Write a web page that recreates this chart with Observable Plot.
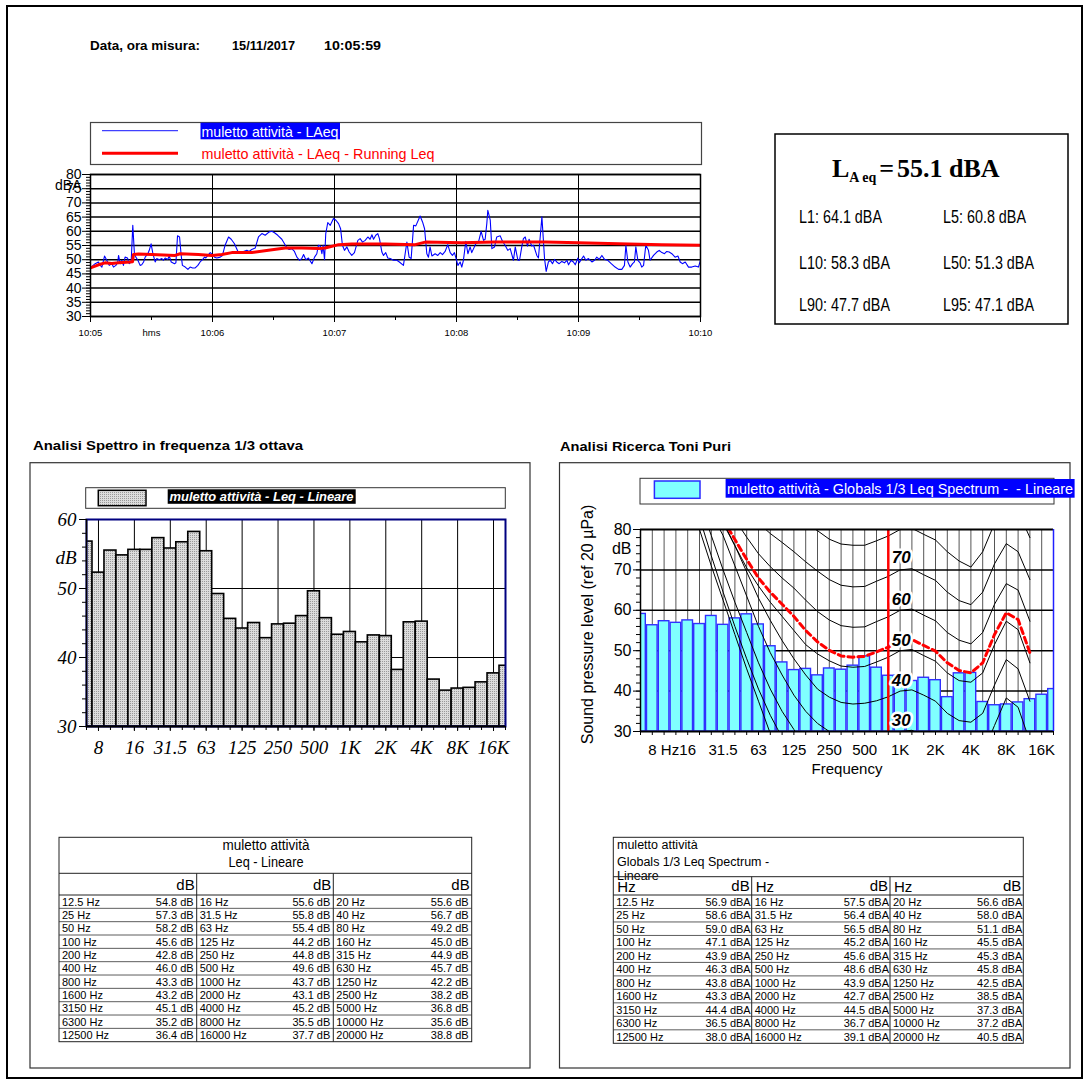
<!DOCTYPE html>
<html><head><meta charset="utf-8">
<script src="https://cdn.jsdelivr.net/npm/d3@7"></script>
<script src="https://cdn.jsdelivr.net/npm/@observablehq/plot@0.6"></script>
<style>
body{margin:0;background:#fff;}
#page{position:relative;width:1089px;height:1086px;overflow:hidden;background:#fff;}
</style></head><body><div id="page"></div>
<script>
// ---------------- DATA ----------------
const timeTicks = [0, 60, 120, 180, 240, 300];
const timeLabels = ["10:05", "10:06", "10:07", "10:08", "10:09", "10:10"];
const tSec = [0.3,2.3,3.9,4.8,5.6,6.9,8.0,9.2,10.5,11.3,12.5,13.4,13.8,14.6,15.4,16.2,17.0,18.2,19.0,20.0,20.8,21.6,22.3,23.3,24.4,25.2,26.1,26.9,28.2,28.9,29.8,30.7,31.8,32.6,33.8,35.1,35.9,36.7,38.0,38.7,39.7,41.3,42.0,42.8,43.8,44.6,45.2,46.6,47.9,49.0,50.2,51.5,52.8,53.9,55.1,56.1,56.7,57.7,58.9,60.0,61.0,62.1,63.8,64.9,66.2,67.9,69.2,70.8,72.5,73.6,75.2,76.9,78.0,79.3,81.0,82.6,84.3,85.9,87.9,89.2,90.5,92.1,94.1,95.4,96.6,97.7,99.0,100.3,101.5,102.8,103.9,104.8,105.9,107.2,108.9,110.2,111.3,112.1,113.0,113.8,114.4,115.1,115.7,116.7,117.9,119.5,120.7,122.0,123.0,123.9,124.9,126.1,127.2,128.5,129.8,131.5,132.6,133.8,135.1,136.4,137.5,138.4,139.2,140.3,141.3,142.1,143.3,144.1,145.2,146.2,147.4,149.0,150.7,151.9,153.9,155.6,156.7,157.7,158.9,160.0,162.1,163.3,164.3,165.4,166.2,167.0,167.9,169.5,170.8,172.0,173.1,174.4,175.7,176.9,178.0,179.0,180.7,181.8,182.6,183.4,184.6,185.6,186.7,187.5,188.4,189.5,190.8,192.1,193.3,194.1,194.9,195.4,196.6,197.4,198.7,199.8,201.5,202.6,203.9,205.2,206.4,208.0,208.9,210.2,211.0,212.1,212.9,213.8,214.9,215.7,217.0,217.9,219.5,220.3,222.0,223.3,224.1,225.2,226.1,227.2,228.2,229.3,230.5,231.8,233.1,234.3,235.1,236.4,237.5,238.4,239.7,240.3,242.5,243.6,244.9,246.6,247.9,249.0,250.2,251.5,252.8,254.4,256.1,258.0,259.7,261.3,262.6,263.3,264.3,265.4,266.6,267.5,268.2,269.2,270.3,271.1,272.0,273.1,274.4,275.2,276.9,278.5,279.7,281.0,282.3,283.4,284.6,285.9,287.5,288.9,290.0,291.1,292.5,294.1,295.7,297.4,299.0,300.0];
const laeq = [47.4,48.6,49.2,48.0,47.4,51.3,49.8,48.0,48.6,47.4,48.0,49.2,51.5,48.6,49.8,48.0,50.9,50.6,48.6,49.2,62.1,52.1,50.9,49.8,48.0,48.2,49.2,50.9,52.1,53.3,55.6,52.1,49.2,50.4,50.0,50.4,49.8,50.6,50.1,51.3,49.2,48.6,48.9,58.4,58.0,51.5,48.0,47.4,46.6,47.4,47.1,47.1,48.0,49.2,50.0,50.9,50.6,51.5,52.5,51.8,50.9,50.6,50.9,51.5,55.1,58.0,57.2,55.6,52.9,52.5,52.9,53.3,52.9,53.6,54.1,58.0,59.2,58.6,59.8,60.0,59.5,58.6,57.2,55.6,54.1,53.6,53.9,52.9,50.9,49.8,50.4,51.8,50.0,50.6,48.6,50.9,52.1,55.1,54.8,52.1,55.1,50.0,59.2,63.1,62.1,64.5,63.9,62.7,60.9,55.1,53.3,54.5,52.7,51.5,52.5,56.8,57.4,56.2,56.8,58.0,57.2,58.8,57.2,58.6,59.2,57.4,52.7,51.5,52.5,50.6,50.4,49.8,49.8,49.2,48.0,56.2,50.9,50.4,62.1,61.9,65.4,63.3,60.9,52.1,50.9,54.5,51.3,52.1,51.5,52.5,51.8,52.9,55.3,52.5,51.5,52.5,48.0,49.2,47.4,49.8,56.5,52.1,54.5,52.5,53.9,55.6,56.2,60.0,56.8,57.2,62.7,67.4,63.9,53.9,54.5,58.0,58.4,56.5,55.1,53.3,53.9,49.8,54.5,49.8,49.8,54.5,57.4,58.0,54.8,57.2,54.8,55.1,51.5,50.6,65.1,50.4,45.9,49.2,49.8,48.6,50.1,49.2,48.6,49.4,48.9,49.8,48.2,49.8,49.2,48.2,50.6,48.9,51.3,49.8,50.4,49.2,49.8,50.9,50.1,51.5,50.1,49.8,48.6,47.4,46.6,46.6,48.0,55.1,49.2,47.4,48.6,49.2,54.5,49.8,48.9,47.4,48.0,55.1,53.3,49.8,51.5,52.7,53.3,52.5,52.1,52.9,52.7,52.1,50.9,51.3,49.2,48.6,49.2,47.4,47.4,47.8,47.4,49.8];
const tRun = [0.3,3.9,7.2,10.5,13.8,19.5,20.7,21.1,23.6,30.2,41.6,44.1,53.1,59.7,64.6,69.5,79.3,87.5,95.7,103.9,112.1,115.4,122.0,128.5,144.9,159.7,164.6,182.6,199.0,223.6,240.0,264.6,281.0,300.0];
const runLeq = [47.2,48.2,48.9,48.7,48.9,49.2,49.3,51.8,52.0,51.8,51.5,52.1,51.8,51.5,51.8,52.5,52.5,53.3,54.1,54.1,53.9,54.1,55.3,55.5,55.5,55.3,56.2,56.0,56.2,56.2,56.0,55.5,55.3,55.1];

const statLabels = ["L1: 64.1 dBA","L5: 60.8 dBA","L10: 58.3 dBA","L50: 51.3 dBA","L90: 47.7 dBA","L95: 47.1 dBA"];

// 1/3 octave bands: index 0 = 6.3 Hz ... 35 = 20 kHz
const bandHz = ["6.3","8","10","12.5","16","20","25","31.5","40","50","63","80","100","125","160","200","250","315","400","500","630","800","1000","1250","1600","2000","2500","3150","4000","5000","6300","8000","10000","12500","16000","20000"];
const leqLineare = [56.8,52.3,55.5,54.8,55.6,55.6,57.3,55.8,56.7,58.2,55.4,49.2,45.6,44.2,45.0,42.8,44.8,44.9,46.0,49.6,45.7,43.3,43.7,42.2,43.2,43.1,38.2,45.1,45.2,36.8,35.2,35.5,35.6,36.4,37.7,38.8];
const leqGlobals = [59.1,56.3,57.3,56.9,57.5,56.6,58.6,56.4,58.0,59.0,56.5,51.1,47.1,45.2,45.5,43.9,45.6,45.3,46.3,48.6,45.8,43.8,43.9,42.5,43.3,42.7,38.5,44.4,44.5,37.3,36.5,36.7,37.2,38.0,39.1,40.5];

const leftTickIdx = [1,4,7,10,13,16,19,22,25,28,31,34];
const leftTickLab = ["8","16","31.5","63","125","250","500","1K","2K","4K","8K","16K"];
const rightTickIdx = [1,2.5,4,7,10,13,16,19,22,25,28,31,34];
const rightTickLab = ["8","Hz","16","31.5","63","125","250","500","1K","2K","4K","8K","16K"];

// equal-loudness contours (start band index, SPL per band)
const phon0  = {start:4,  v:[95,80,71,62.5,54,45.5,37.5,29.5,23]};
const phon10 = {start:4,  v:[95,83,73.5,64.5,56,48,40.5,34,28.5,23]};
const phon20 = {start:4,  v:[98,87,78.5,70,62,54.5,47,40.5,35,30.5,26]};
const phon30 = {start:5,  v:[92,84,78.5,71,63.5,56,49.5,44,39,35,32,30,27.5,26.5,26.5,27.4,28.5,30,30.3,29,27.5,24.5,22.5,22,24.5,31.5,38.3,36,27.5]};
const phon40 = {start:6,  v:[90,82,76,69.5,63,57.5,52.5,48,44,40.5,38.5,37.2,36.8,37.0,37.6,38.6,40,40.3,39,37.5,34.5,32.7,32.3,34.5,41.5,47.8,45.5,37.5]};
const phon50 = {start:7,  v:[81.5,76,70.5,66,62,58.5,55,51.5,49.2,47.5,46.2,45.9,46.1,47.2,48.4,50,50.3,48.8,47.4,44.5,42.6,42.2,44.5,51.5,57.3,55.2,47]};
const phon60 = {start:8,  v:[82.5,78.1,74,70.8,68,65.5,62.5,59.7,57.6,56.2,55.8,55.9,57.2,58.4,60,60.3,58.8,57.4,54.5,52.6,51.7,54.5,61.5,66.6,65,57.3]};
const phon70 = {start:10, v:[81.6,79,76.8,74.5,72,69.7,67.6,66.2,65.8,65.9,67.2,68.4,70,70.3,68.8,67.4,64.5,62.4,61.4,64.5,71.5,76.5,74.5,67.6]};
const phon80 = {start:13, v:[83.6,81.5,79.7,77.6,76.4,76.1,76.1,77.2,78.4,80,80.3,78.8,77.4,74.5,72.2,70.7,74.5,81.5,86.5,84.5,78]};
const toneContour = {start:7, v:[82.5,77.5,72.6,68.0,64.5,61.5,58.5,55.0,52.2,50.1,48.7,48.4,48.6,49.7,50.9,52.5,52.8,51.3,49.9,47.0,45.1,44.5,47.0,54.0,59.4,57.7,49.5]};
const contourLabText = ["30","40","50","60","70"];
const contourLabY = [32.7,42.6,52.6,62.7,73.0];
const toneBandIdx = 21; // 800 Hz

// ---------------- PAGE ----------------
const W = 1089, H = 1086;
const F = "Liberation Sans, Arial, sans-serif";
const page = d3.select("#page");
const ov = page.append("svg").attr("width", W).attr("height", H)
  .style("position","absolute").style("left","0px").style("top","0px");
const defs = ov.append("defs");
function addStipple(d, id){
  const p = d.append("pattern").attr("id", id).attr("width",2).attr("height",2).attr("patternUnits","userSpaceOnUse");
  p.append("rect").attr("width",2).attr("height",2).attr("fill","#dcdcdc");
  p.append("rect").attr("width",1).attr("height",1).attr("fill","#999");
}
addStipple(defs, "stipOv");
function T(x, y, s, o = {}) {
  const t = ov.append("text").attr("x", x).attr("y", y).text(s)
    .attr("font-family", o.ff || F).attr("font-size", o.fs || 12)
    .attr("fill", o.fill || "#000").attr("dominant-baseline", "central")
    .style("white-space","pre");
  if (o.fw) t.attr("font-weight", o.fw);
  if (o.st) t.attr("font-style", o.st);
  if (o.anchor) t.attr("text-anchor", o.anchor);
  if (o.len) t.attr("textLength", o.len).attr("lengthAdjust", "spacingAndGlyphs");
  return t;
}
function R(x, y, w, h, o = {}) {
  return ov.append("rect").attr("x", x).attr("y", y).attr("width", w).attr("height", h)
    .attr("fill", o.fill || "none").attr("stroke", o.stroke || "none").attr("stroke-width", o.sw || 1);
}
function L(x1, y1, x2, y2, o = {}) {
  return ov.append("line").attr("x1", x1).attr("y1", y1).attr("x2", x2).attr("y2", y2)
    .attr("stroke", o.stroke || "#000").attr("stroke-width", o.sw || 1);
}

// outer border
R(7, 6, 1075, 1072, {stroke:"#000", sw:2});
// header
T(90, 46, "Data, ora misura:", {fw:"bold", fs:12, len:110});
T(232, 46, "15/11/2017", {fw:"bold", fs:12, len:63});
T(324, 46, "10:05:59", {fw:"bold", fs:12, len:57});

// top legend
R(90.5, 122.5, 611, 42, {stroke:"#444", sw:1.2});
L(102, 130.7, 178, 130.7, {stroke:"#4040ff", sw:1.2});
R(200.5, 122.7, 139.5, 16.6, {fill:"#0000ff"});
T(201.5, 131.2, "muletto attività - LAeq", {fs:15, fill:"#fff", len:137});
L(102, 153.3, 178, 153.3, {stroke:"#ff0000", sw:3});
T(201.5, 153.8, "muletto attività - LAeq - Running Leq", {fs:15, fill:"#ff0000", len:233});

// LAeq box
R(775, 134, 293, 190, {stroke:"#000", sw:1.5});
const ttl = ov.append("text").attr("x", 832).attr("y", 177).attr("font-family","Liberation Serif, Times New Roman, serif").attr("font-weight","bold").attr("font-size",26);
ttl.append("tspan").text("L");
ttl.append("tspan").attr("font-size",14).attr("dy",5).text("A eq");
ttl.append("tspan").attr("dy",-5).attr("dx",3).text("=");
ttl.append("tspan").attr("dx",3).text("55.1 dBA");
const statX = [799, 943], statY = [217, 262.7, 305];
statLabels.forEach((s, i) => {
  T(statX[i % 2], statY[Math.floor(i / 2)], s, {fs:18, len: s.length === 12 ? 83 : 91});
});

// section titles and panels
T(33, 445, "Analisi Spettro in frequenza 1/3 ottava", {fw:"bold", fs:13, len:270});
T(560, 446.7, "Analisi Ricerca Toni Puri", {fw:"bold", fs:13, len:171});
R(30, 462.7, 500, 605.3, {stroke:"#333", sw:1.2});
R(559.5, 462.7, 510.5, 605.3, {stroke:"#333", sw:1.2});

// left legend
R(85.7, 487.7, 419.6, 20.6, {stroke:"#333", sw:1});
R(98.3, 490.3, 47.7, 15.4, {fill:"url(#stipOv)", stroke:"#000", sw:1.5});
R(167.7, 489.3, 188, 14.5, {fill:"#000"});
T(169.5, 496.7, "muletto attività - Leq - Lineare", {fw:"bold", st:"italic", fs:13, fill:"#fff", len:184});

// right legend
R(640, 478.3, 414, 25.7, {stroke:"#333", sw:1});
R(654.4, 481, 45.6, 17.3, {fill:"#80ffff", stroke:"#2a2aff", sw:1.5});
R(725.6, 479, 349, 18.7, {fill:"#0000ff"});
T(727, 488.6, "muletto attività - Globals 1/3 Leq Spectrum -  - Lineare", {fs:15, fill:"#fff", len:346});

// ---------- tables ----------
function drawTable(o) {
  const {x0, x1, y0, yTitleEnd, yHead, y1, divs} = o;
  R(x0, y0, x1 - x0, y1 - y0, {stroke:"#222", sw:1});
  L(x0, yTitleEnd, x1, yTitleEnd, {stroke:"#222"});
  L(x0, yHead, x1, yHead, {stroke:"#222"});
  divs.forEach(d => L(d, yTitleEnd, d, y1, {stroke:"#222"}));
  const edges = [x0, ...divs, x1];
  const rh = (y1 - yHead) / 11;
  for (let r = 0; r < 11; r++) {
    const yc = yHead + rh * r + rh / 2;
    if (r < 10) L(x0, yHead + rh * (r + 1), x1, yHead + rh * (r + 1), {stroke:"#333", sw:0.8});
    for (let c = 0; c < 3; c++) {
      const bi = 3 + r * 3 + c;
      T(edges[c] + 3, yc, bandHz[bi] + " Hz", {fs:11});
      T(edges[c + 1] - (o.valPad || 2), yc, o.vals[bi].toFixed(1) + o.unit, {fs:11, anchor:"end"});
    }
  }
  for (let c = 0; c < 3; c++) {
    const yc = (yTitleEnd + yHead) / 2;
    if (o.hz) T(edges[c] + 4, yc + 0.5, "Hz", {fs:15});
    T(edges[c + 1] - 2, yc, "dB", {fs:15, anchor:"end"});
  }
}
// left table
T(266, 845, "muletto attività", {fs:14, anchor:"middle", len:87});
T(266, 862.3, "Leq - Lineare", {fs:14, anchor:"middle", len:75});
drawTable({x0:59, x1:471.7, y0:837.3, yTitleEnd:873.3, yHead:895, y1:1041.7, divs:[196.7, 333.3], vals:leqLineare, unit:" dB", hz:false, valPad:3});
// right table
T(617, 845, "muletto attività", {fs:12.5});
T(617, 861.7, "Globals 1/3 Leq Spectrum -", {fs:12.5});
T(617, 875.5, "Lineare", {fs:12.5});
drawTable({x0:613.3, x1:1023.3, y0:837.3, yTitleEnd:876.7, yHead:895, y1:1043.3, divs:[751.7, 890], vals:leqGlobals, unit:" dBA", hz:true, valPad:1});

// ---------------- CHARTS ----------------
function place(svg, left, top) {
  svg.style.position = "absolute";
  svg.style.left = left + "px";
  svg.style.top = top + "px";
  page.node().appendChild(svg);
}
const baseStyle = {fontFamily: F, background: "transparent", overflow: "visible", color: "#000"};

// Top chart: time history
const laeqData = tSec.map((t, i) => ({t, v: laeq[i]}));
const runData = tRun.map((t, i) => ({t, v: runLeq[i]}));
const topChart = Plot.plot({
  width: 690, height: 184, marginLeft: 60, marginRight: 20, marginTop: 14, marginBottom: 28,
  style: {...baseStyle, fontSize: "14px"},
  x: {domain: [0, 300]},
  y: {domain: [30, 80]},
  marks: [
    Plot.gridY(d3.range(30, 81, 5), {stroke: "#000", strokeOpacity: 1, strokeWidth: 1.5}),
    Plot.gridX(timeTicks, {stroke: "#000", strokeOpacity: 1, strokeWidth: 1}),
    Plot.line(laeqData, {x: "t", y: "v", stroke: "#0000ff", strokeWidth: 1.1, clip: true}),
    Plot.line(runData, {x: "t", y: "v", stroke: "#ff0000", strokeWidth: 3, clip: true}),
    Plot.frame({stroke: "#000", strokeWidth: 1.5}),
    Plot.axisY(d3.range(30, 81, 5), {tickSize: 8, tickPadding: 1, fontSize: 14, label: null}),
    Plot.axisY(d3.range(30, 81, 1), {tickSize: 4, tickFormat: () => "", label: null}),
    Plot.axisX(timeTicks, {tickSize: 6, tickPadding: 7, tickFormat: d => timeLabels[timeTicks.indexOf(d)], fontSize: 9.5, label: null}),
    Plot.axisX([30, 90, 150, 210, 270], {tickSize: 4, tickPadding: 9, tickFormat: d => d === 30 ? "hms" : "", fontSize: 9.5, label: null}),
    Plot.text(["dBA"], {frameAnchor: "top-left", dx: -9, dy: 6, textAnchor: "end", fontSize: 14})
  ]
});
place(topChart, 30, 160);

// Left chart: 1/3 octave spectrum
const leftBars = leqLineare.map((v, k) => ({k, v}));
const leftChart = Plot.plot({
  width: 500, height: 261, marginLeft: 66, marginRight: 15, marginTop: 14, marginBottom: 40,
  style: {...baseStyle},
  x: {domain: [0, 35]},
  y: {domain: [30, 60]},
  marks: [
    Plot.ruleX(leftTickIdx, {stroke: "#000", strokeWidth: 1}),
    Plot.ruleY([40, 50], {stroke: "#000", strokeWidth: 1}),
    Plot.rect(leftBars, {x1: d => d.k - 0.5, x2: d => d.k + 0.5, y1: 30, y2: "v", fill: "url(#stip)", stroke: "#000", strokeWidth: 1.6, clip: true}),
    Plot.frame({stroke: "#000080", strokeWidth: 2}),
    Plot.ruleY([30], {stroke: "#000", strokeWidth: 2}),
    Plot.ruleX([0], {stroke: "#000", strokeWidth: 1.5}),
    Plot.axisY([30, 40, 50, 60], {tickSize: 7, tickPadding: 3, fontFamily: "Liberation Serif, serif", fontStyle: "italic", fontSize: 19, label: null}),
    Plot.axisY(d3.range(30, 61, 2), {tickSize: 4, tickFormat: () => "", label: null}),
    Plot.axisX(leftTickIdx, {tickSize: 5, tickPadding: 9, tickFormat: d => leftTickLab[leftTickIdx.indexOf(d)], fontFamily: "Liberation Serif, serif", fontStyle: "italic", fontSize: 19, label: null}),
    Plot.axisX(d3.range(0, 36), {tickSize: 4, tickFormat: () => "", label: null}),
    Plot.text(["dB"], {x: 0, y: 54.5, dx: -10, textAnchor: "end", fontFamily: "Liberation Serif, serif", fontStyle: "italic", fontSize: 19})
  ]
});
addStipple(d3.select(leftChart).insert("defs", ":first-child"), "stip");
place(leftChart, 20, 505);

// Right chart: pure tone search
const rightBars = leqGlobals.map((v, k) => ({k, v}));
const contourSets = [["0", phon0], ["10", phon10], ["20", phon20], ["30", phon30], ["40", phon40], ["50", phon50], ["60", phon60], ["70", phon70], ["80", phon80]];
const contourData = contourSets.flatMap(([p, c]) => c.v.map((v, i) => ({p, k: c.start + i, v})));
const toneData = toneContour.v.map((v, i) => ({k: toneContour.start + i, v}));
const labData = contourLabText.map((t, i) => ({t, y: contourLabY[i]}));
const rightChart = Plot.plot({
  width: 513, height: 286, marginLeft: 80, marginRight: 20, marginTop: 24, marginBottom: 60,
  style: {...baseStyle, fontSize: "15px"},
  x: {domain: [0, 35]},
  y: {domain: [30, 80]},
  marks: [
    Plot.ruleX(d3.range(1, 35), {stroke: "#555", strokeWidth: 1}),
    Plot.ruleY([40, 50, 60, 70], {stroke: "#000", strokeWidth: 1.5}),
    Plot.rect(rightBars, {x1: d => d.k - 0.5, x2: d => d.k + 0.5, y1: 30, y2: "v", insetLeft: 0.6, insetRight: 0.6, fill: "#80ffff", stroke: "#3030ff", strokeWidth: 1.4, clip: true}),
    Plot.line(contourData, {x: "k", y: "v", z: "p", stroke: "#000", strokeWidth: 1, clip: true}),
    Plot.line(toneData, {x: "k", y: "v", stroke: "#ff0000", strokeWidth: 3, strokeDasharray: "6,4", clip: true}),
    Plot.ruleX([toneBandIdx], {stroke: "#ff0000", strokeWidth: 2.5}),
    Plot.text(labData, {x: 22.1, y: "y", text: "t", fontWeight: "bold", fontStyle: "italic", fontSize: 17, fill: "#000", stroke: "#fff", strokeWidth: 5, paintOrder: "stroke"}),
    Plot.ruleY([80], {stroke: "#000", strokeWidth: 2}),
    Plot.ruleY([30], {stroke: "#000", strokeWidth: 2}),
    Plot.ruleX([0], {stroke: "#000", strokeWidth: 1.5}),
    Plot.ruleX([35], {stroke: "#2020ff", strokeWidth: 1.5}),
    Plot.axisY([30, 40, 50, 60, 70, 80], {tickSize: 7, tickPadding: 2, fontSize: 16, label: null}),
    Plot.axisY(d3.range(30, 81, 2), {tickSize: 4, tickFormat: () => "", label: null}),
    Plot.axisX(rightTickIdx, {tickSize: 0, tickPadding: 13, tickFormat: d => rightTickLab[rightTickIdx.indexOf(d)], fontSize: 15, label: null}),
    Plot.axisX(d3.range(0, 36), {tickSize: 4, tickFormat: () => "", label: null}),
    Plot.text(["dB"], {x: 0, y: 75.2, dx: -9, textAnchor: "end", fontSize: 16}),
    Plot.text(["Frequency"], {frameAnchor: "bottom", dy: 42, fontSize: 15}),
    Plot.text(["Sound pressure level (ref 20 µPa)"], {frameAnchor: "left", dx: -53, dy: -6, rotate: -90, textAnchor: "middle", fontSize: 16})
  ]
});
place(rightChart, 560, 505);
</script></body></html>
